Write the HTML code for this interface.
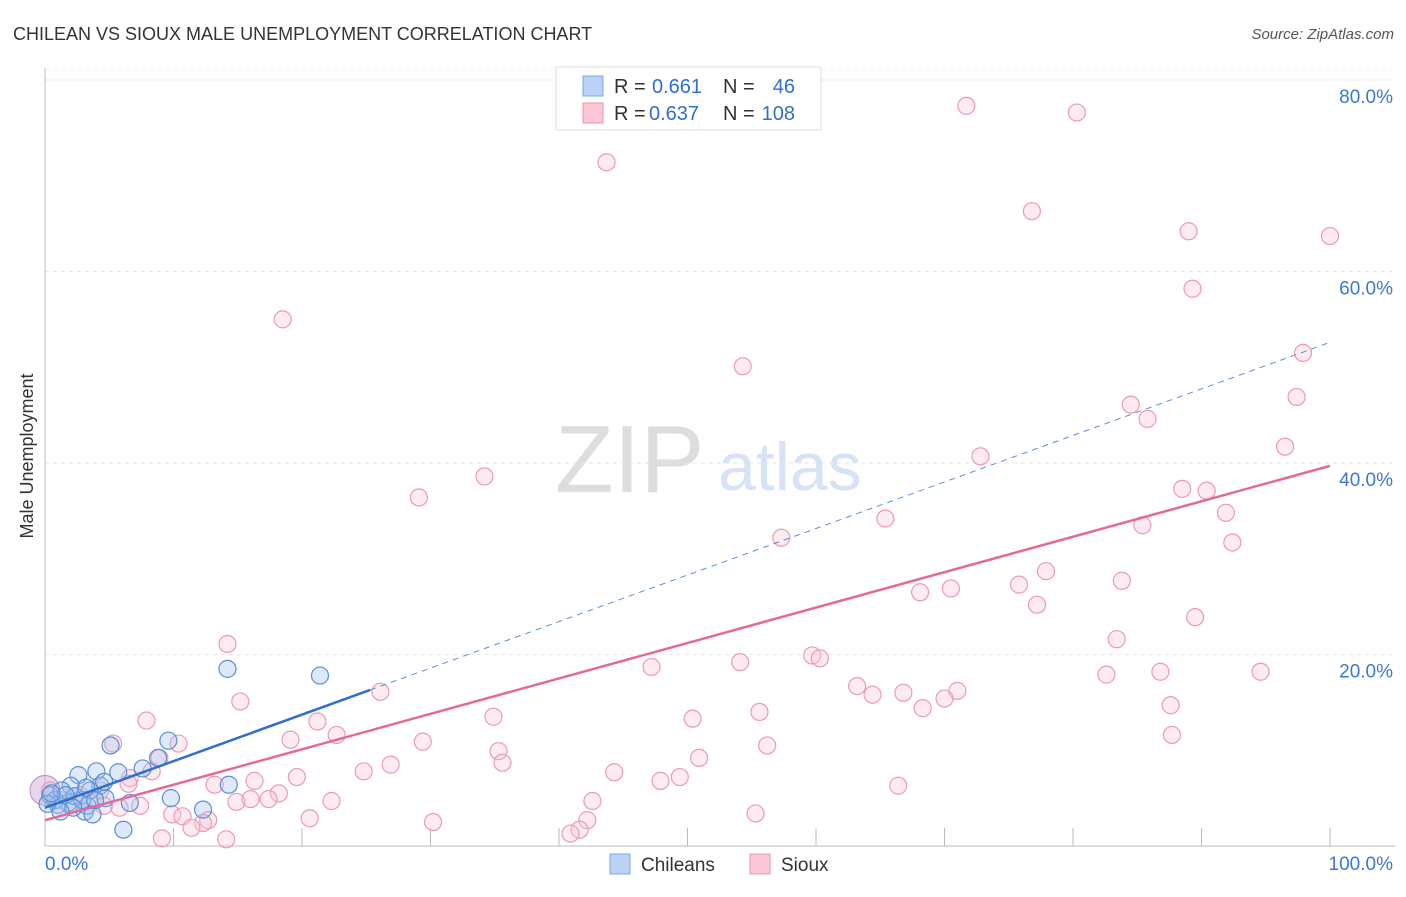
<!DOCTYPE html>
<html><head><meta charset="utf-8"><style>
body{margin:0;background:#fff;font-family:"Liberation Sans",sans-serif;}
svg text{font-family:"Liberation Sans",sans-serif;}
</style></head><body>
<svg id="chart" width="1406" height="892" xmlns="http://www.w3.org/2000/svg">
<text x="13" y="40" font-size="18" fill="#333">CHILEAN VS SIOUX MALE UNEMPLOYMENT CORRELATION CHART</text>
<text x="1394" y="39" font-size="15" fill="#555" text-anchor="end" font-style="italic">Source: ZipAtlas.com</text>
<text x="555" y="492" font-size="96" fill="#ddd" font-family="Liberation Serif, serif">ZIP</text>
<text x="718" y="490" font-size="68" fill="#d6e2f5">atlas</text>
<g id="grid"></g>
<g id="axes"></g>
<g id="pts"></g>
<g id="lines"></g>
<text transform="translate(33,456) rotate(-90)" font-size="18" fill="#333" text-anchor="middle">Male Unemployment</text>
<g>
<rect x="556" y="67" width="265" height="63" fill="#fff" stroke="#ddd"/>
<rect x="583" y="76" width="20" height="20" fill="#b8d3f5" stroke="#7aa6e0"/>
<rect x="583" y="103" width="20" height="20" fill="#f9c7d6" stroke="#eb93ae"/>
<text x="614" y="93" font-size="20" fill="#333">R =</text>
<text x="652" y="93" font-size="20" fill="#2e6fd0">0.661</text>
<text x="723" y="93" font-size="20" fill="#333">N =</text>
<text x="795" y="93" font-size="20" fill="#2e6fd0" text-anchor="end">46</text>
<text x="614" y="120" font-size="20" fill="#333">R =</text>
<text x="649" y="120" font-size="20" fill="#2e6fd0">0.637</text>
<text x="723" y="120" font-size="20" fill="#333">N =</text>
<text x="795" y="120" font-size="20" fill="#2e6fd0" text-anchor="end">108</text>
</g>
<g>
<rect x="610" y="854" width="20" height="20" fill="#b8d3f5" stroke="#7aa6e0"/>
<text x="641" y="871" font-size="19" fill="#333">Chileans</text>
<rect x="750" y="854" width="20" height="20" fill="#f9c7d6" stroke="#eb93ae"/>
<text x="781" y="871" font-size="19" fill="#333">Sioux</text>
</g>
</svg>
<script>
const yTicks=[20,40,60,80];
const yTickLabels=["20.0%","40.0%","60.0%","80.0%"];
const xLabels=["0.0%","100.0%"];
const blueX=[14.2,21.4,5.1,9.6,8.8,7.6,4.0,5.7,2.6,2.0,4.3,14.3,4.7,9.8,12.3,6.1,0.4,0.8,1.3,1.8,3.1,3.3,2.3,1.0,3.5,4.6,6.6,1.6,0.2,2.9,3.7,2.2,0.5,1.2,3.9,3.2];
const blueY=[18.5,17.8,10.5,11.0,9.2,8.1,7.8,7.7,7.4,6.3,6.3,6.4,5.0,5.0,3.8,1.7,5.3,4.8,5.8,4.5,3.6,4.2,5.2,4.3,5.8,6.7,4.5,5.3,4.4,4.8,3.3,4.0,5.5,3.6,4.8,6.1];
const pinkX=[43.7,71.7,80.3,76.8,89.0,100,89.3,18.5,54.3,97.9,84.5,85.8,97.4,96.5,72.8,34.2,29.1,88.5,90.4,91.9,65.4,85.4,92.4,57.3,77.9,75.8,68.1,70.5,77.2,83.8,89.5,83.4,14.2,59.7,60.3,54.1,47.2,82.6,86.8,94.6,63.2,64.4,66.8,26.1,71.0,70.0,68.3,15.2,87.6,55.6,7.9,34.9,50.4,21.2,22.7,87.7,10.4,19.1,29.4,56.2,5.3,35.3,50.9,35.6,8.9,26.9,24.8,44.3,8.3,6.6,19.6,16.3,47.9,49.4,66.4,13.2,6.5,18.2,17.4,14.9,16.0,42.6,22.3,4.6,7.4,5.8,9.9,10.7,12.7,55.3,20.6,42.2,30.2,12.3,11.4,41.6,40.9,9.1,14.1,0.4,1.2,1.9,2.7,3.5,4.3];
const pinkY=[71.4,77.3,76.6,66.3,64.2,63.7,58.2,55.0,50.1,51.5,46.1,44.6,46.9,41.7,40.7,38.6,36.4,37.3,37.1,34.8,34.2,33.5,31.7,32.2,28.7,27.3,26.5,26.9,25.2,27.7,23.9,21.6,21.1,19.9,19.6,19.2,18.7,17.9,18.2,18.2,16.7,15.8,16.0,16.1,16.2,15.4,14.4,15.1,14.7,14.0,13.1,13.5,13.3,13.0,11.6,11.6,10.7,11.1,10.9,10.5,10.7,9.9,9.2,8.7,9.2,8.5,7.8,7.7,7.8,7.1,7.2,6.8,6.8,7.2,6.3,6.4,6.5,5.5,4.9,4.6,4.9,4.7,4.7,4.2,4.2,4.0,3.3,3.1,2.7,3.4,2.9,2.7,2.5,2.4,1.9,1.7,1.3,0.8,0.7,5.8,4.8,4.3,5.3,4.8,5.8];
const blueFit=[4.0,52.6];
const pinkFit=[2.7,39.7];
const blueSolidEnd=25.3;

const NS="http://www.w3.org/2000/svg";
const X=v=>45+v*12.85;
const Y=v=>846-v*9.575;
function mk(tag,attrs,parent){const e=document.createElementNS(NS,tag);for(const k in attrs)e.setAttribute(k,attrs[k]);document.getElementById(parent).appendChild(e);return e;}
yTicks.forEach((t,i)=>{
 const l=mk('line',{x1:45,x2:1395,y1:Y(t),y2:Y(t),stroke:'#e6e6e6','stroke-dasharray':'4,4'},'grid');
 
 
 const tx=mk('text',{x:1393,y:Y(t)+23,'font-size':19,fill:'#3a78d6','text-anchor':'end'},'grid');
 tx.textContent=yTickLabels[i];
 
 
});
const topGrid=mk('line',{x1:45,x2:1395,y1:70,y2:70,stroke:'#f0f0f0','stroke-dasharray':'4,4'},'grid');


const ya=mk('line',{x1:45,x2:45,y1:68,y2:846,stroke:'#bbb'},'axes');


const xa=mk('line',{x1:45,x2:1395,y1:846,y2:846,stroke:'#bbb'},'axes');


for(let i=0;i<=10;i++){const t=mk('line',{x1:X(i*10),x2:X(i*10),y1:828,y2:846,stroke:'#bbb'},'axes');
 
 }
xLabels.forEach((s,i)=>{const t=mk('text',{x:i?1393:45,y:870,'font-size':19,fill:'#3a78d6','text-anchor':i?'end':'start'},'axes');t.textContent=s;
 
 });
const big=mk('circle',{cx:X(0),cy:Y(5.8),r:15,fill:'rgba(200,150,200,0.4)',stroke:'#b88cc8'},'pts');


pinkX.forEach((x,i)=>{const c=mk('circle',{cx:X(x),cy:Y(pinkY[i]),r:8.5,fill:'rgba(249,199,214,0.35)',stroke:'#eb9ab3','stroke-width':1.2},'pts');
 
 });
blueX.forEach((x,i)=>{const c=mk('circle',{cx:X(x),cy:Y(blueY[i]),r:8.5,fill:'rgba(160,195,240,0.35)',stroke:'#5a8fd8','stroke-width':1.2},'pts');
 
 });
const bf=v=>blueFit[0]+(blueFit[1]-blueFit[0])*v/100;
const pf=v=>pinkFit[0]+(pinkFit[1]-pinkFit[0])*v/100;
const bd=mk('line',{x1:X(blueSolidEnd),y1:Y(bf(blueSolidEnd)),x2:X(100),y2:Y(bf(100)),stroke:'#5a8fd8','stroke-width':1,'stroke-dasharray':'6,5'},'lines');


const bs=mk('line',{x1:X(0),y1:Y(bf(0)),x2:X(blueSolidEnd),y2:Y(bf(blueSolidEnd)),stroke:'#2e6fd0','stroke-width':2.5},'lines');


const ps=mk('line',{x1:X(0),y1:Y(pf(0)),x2:X(100),y2:Y(pf(100)),stroke:'#e46a95','stroke-width':2.5},'lines');


</script>
</body></html>
